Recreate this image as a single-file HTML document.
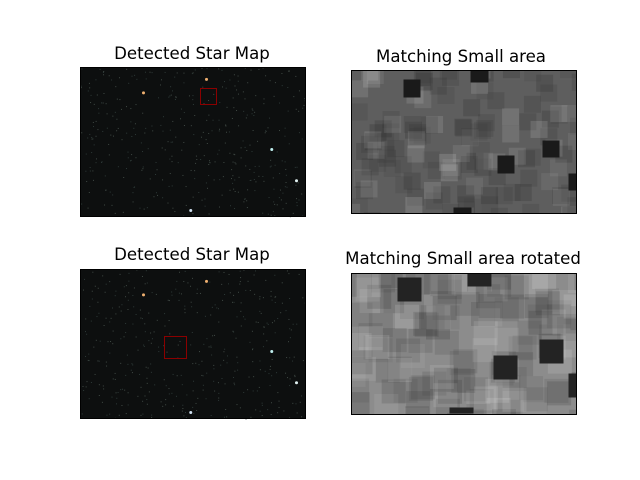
<!DOCTYPE html>
<html><head><meta charset="utf-8"><style>
body{margin:0;background:#fff;}
svg{display:block;font-family:"DejaVu Sans","Liberation Sans",sans-serif;}
</style></head><body>
<svg id="fig" width="640" height="480" viewBox="0 0 640 480">
<rect width="640" height="480" fill="#fff"/>
<text x="192" y="59" font-size="16.6" text-anchor="middle">Detected Star Map</text>
<text x="461" y="62" font-size="16.6" text-anchor="middle">Matching Small area</text>
<text x="192" y="260" font-size="16.6" text-anchor="middle">Detected Star Map</text>
<text x="463" y="264" font-size="16.6" text-anchor="middle">Matching Small area rotated</text>
<g id="p1"></g>
<g id="p2"></g>
<g id="p3"></g>
<g id="p4"></g>
</svg>
<script>
// bright stars (relative fractions of star-map axes)
const brightX=[0.56,0.28,0.85,0.96,0.49];
const brightY=[0.08,0.17,0.55,0.76,0.96];
const brightC=['#f0b070','#f0b070','#c0f0f0','#e0f0f0','#d0e0f0'];
// dark squares in matching areas: [x,y,w,h] relative px
const darkTop=[[52,9,17,18],[119,0,18,12],[191,70,17,17],[146,85,17,18],[217,103,9,17],[102,137,18,6]];
const darkRot=[[46,4,24,24],[116,0,24,13],[188,66,24,24],[217,100,9,24],[98,134,24,6],[142,82,24,24]];
const NS='http://www.w3.org/2000/svg';
function mk(tag,attrs,parent){const e=document.createElementNS(NS,tag);for(const k in attrs)e.setAttribute(k,attrs[k]);parent.appendChild(e);return e;}
let seed=7;function rnd(){seed=(seed*16807)%2147483647;return seed/2147483647;}
function starMap(g,x,y,w,h,bx,by,bw){
  const r=mk('rect',{x:x,y:y,width:w,height:h,fill:'#0d0f0f'},g);
  
  
  for(let i=0;i<400;i++){const c=rnd()<0.5?'#2e3a38':'#404a45';mk('rect',{x:x+rnd()*w,y:y+rnd()*h,width:1,height:1,fill:c},g);}
  for(let i=0;i<brightX.length;i++){const s=mk('circle',{cx:x+brightX[i]*w,cy:y+brightY[i]*h,r:1.5,fill:brightC[i]},g);
    
    }
  const b=mk('rect',{x:bx,y:by,width:bw,height:bw,fill:'none',stroke:'#8b0000','stroke-width':1},g);
  
  
  const f=mk('rect',{x:x,y:y,width:w,height:h,fill:'none',stroke:'#000','stroke-width':1},g);
  
  
}
function gray(g,x,y,w,h,base,mid,dark,sq,sz){
  mk('clipPath',{id:'c'+g.id},g);
  const cp=g.lastChild;mk('rect',{x:x,y:y,width:w,height:h},cp);
  const inner=mk('g',{'clip-path':'url(#c'+g.id+')'},g);
  const r=mk('rect',{x:x,y:y,width:w,height:h,fill:base},inner);
  
  
  for(let i=0;i<90;i++){mk('rect',{x:x-10+rnd()*(w+10),y:y-10+rnd()*(h+10),width:sz,height:sz,fill:mid,opacity:0.12+rnd()*0.15},inner);}
  for(let i=0;i<40;i++){mk('rect',{x:x-10+rnd()*(w+10),y:y-10+rnd()*(h+10),width:sz,height:sz,fill:'#ffffff',opacity:0.06+rnd()*0.08},inner);}
  for(const d of sq){const s=mk('rect',{x:x+d[0],y:y+d[1],width:d[2],height:d[3],fill:dark},inner);
    
    }
  const f=mk('rect',{x:x,y:y,width:w,height:h,fill:'none',stroke:'#000','stroke-width':1},g);
  
  
}
starMap(document.getElementById('p1'),80.5,67.5,225,149,200.5,88.5,16);
starMap(document.getElementById('p2'),80.5,269.5,225,149,164.5,336.5,22);
gray(document.getElementById('p3'),351.5,70.5,225,143,'#5e5e5e','#303030','#1a1a1a',darkTop,17);
gray(document.getElementById('p4'),351.5,273.5,225,141,'#8c8c8c','#404040','#232323',darkRot,24);
</script>
</body></html>
